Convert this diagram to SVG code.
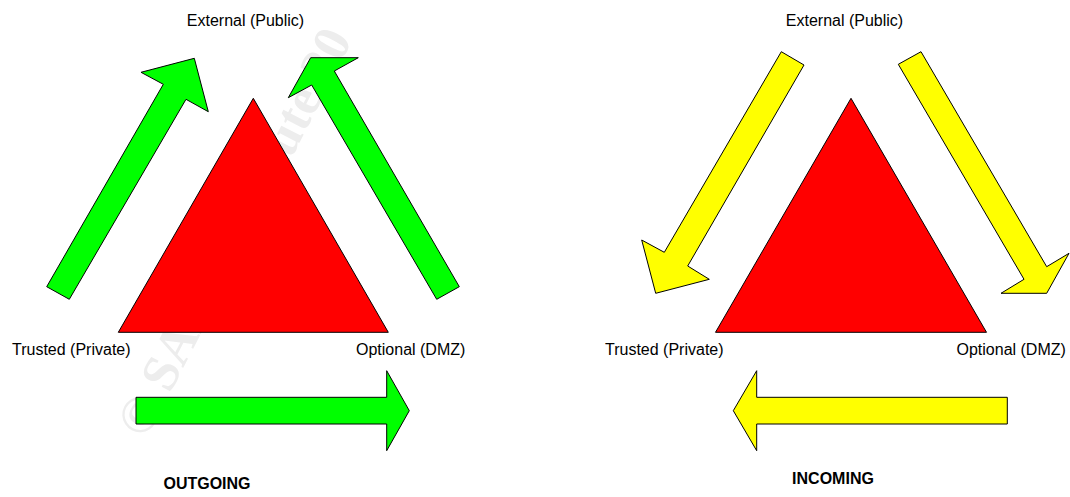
<svg xmlns="http://www.w3.org/2000/svg" width="1070" height="497" viewBox="0 0 1070 497">
<style>
.lbl{font-family:"Liberation Sans",Arial,sans-serif;font-size:16px;fill:#000}
.ttl{font-family:"Liberation Sans",Arial,sans-serif;font-size:16px;font-weight:bold;fill:#000}
.tri{fill:#ff0000;stroke:#000;stroke-width:1}
.g{fill:#00ff00;stroke:#000;stroke-width:1;stroke-linejoin:miter}
.y{fill:#ffff00;stroke:#000;stroke-width:1;stroke-linejoin:miter}
.wm{font-family:"Liberation Serif","Times New Roman",serif;font-size:52px;font-weight:bold;fill:#ededed}
</style>
<rect width="1070" height="497" fill="#fff"/>
<text class="wm" x="146" y="440" transform="rotate(-62.7 146 440)">© SANS Institute 20</text>
<g id="outgoing">
  <g id="firewall-left"><polygon class="tri" points="253.3,98.3 118.3,332.3 388.3,332.3"/></g>
  <g id="ext-left"><text class="lbl" x="245.5" y="26" text-anchor="middle">External (Public)</text></g>
  <g id="trusted-left"><text class="lbl" x="12" y="355">Trusted (Private)</text></g>
  <g id="dmz-left"><text class="lbl" x="356" y="355">Optional (DMZ)</text></g>
  <g id="title-left"><text class="ttl" x="207" y="489" text-anchor="middle">OUTGOING</text></g>
</g>
<g id="incoming">
  <g id="firewall-right"><polygon class="tri" points="851,98.3 715.5,332.3 986.5,332.3"/></g>
  <g id="ext-right"><text class="lbl" x="844.5" y="26" text-anchor="middle">External (Public)</text></g>
  <g id="trusted-right"><text class="lbl" x="605" y="355">Trusted (Private)</text></g>
  <g id="dmz-right"><text class="lbl" x="956.5" y="355">Optional (DMZ)</text></g>
  <g id="title-right"><text class="ttl" x="833" y="484" text-anchor="middle">INCOMING</text></g>
</g>
<g id="connectors">
  <polygon class="g" points="46.7,286.7 163.3,84.3 141,72.3 194.3,58.3 208.3,111.7 186,99.3 69.3,299.3"/>
  <polygon class="g" points="436.7,299.3 311.7,85 288.3,97.7 310.7,57.7 358.3,57.7 334.3,71 459.3,286.7"/>
  <polygon class="g" points="136,397.3 386.7,397.3 386.7,370.7 409.3,410.7 386.7,450.7 386.7,424 136,424"/>
  <polygon class="y" points="781.3,51.7 804,65 687.7,266 709.3,279.3 655.7,293.3 641.7,240 664.3,252.3"/>
  <polygon class="y" points="898.3,64.3 921,51.7 1046.7,266.7 1069,253.3 1046.7,293.3 1001,293.3 1024,279.3"/>
  <polygon class="y" points="1007.3,397.3 756.7,397.3 756.7,370.7 733.3,410.7 756.7,450.7 756.7,424 1007.3,424"/>
</g>
</svg>
